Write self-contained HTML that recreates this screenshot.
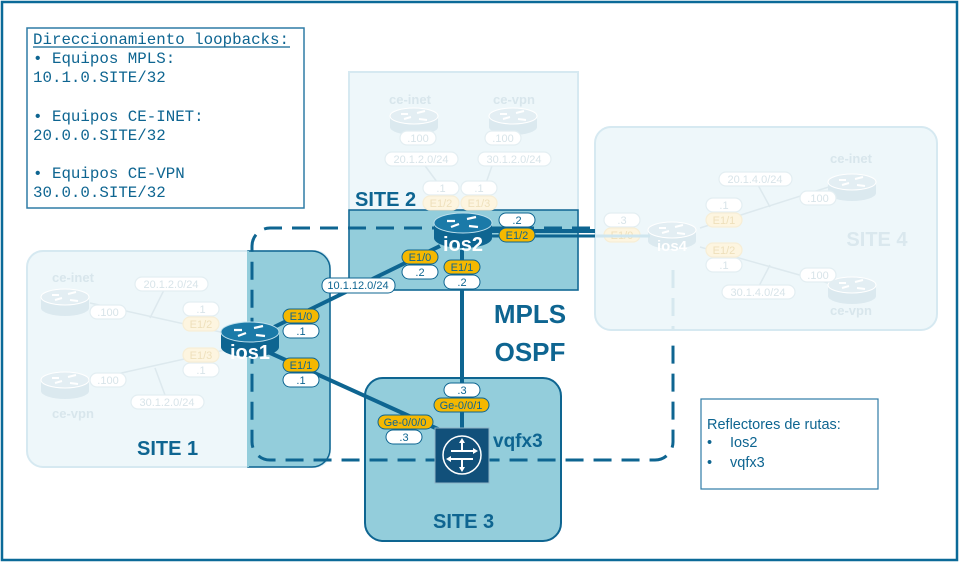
<!DOCTYPE html>
<html><head><meta charset="utf-8"><style>
html,body{margin:0;padding:0;background:#fff}
svg{display:block}
text{font-family:"Liberation Sans",sans-serif}
.mono{font-family:"Liberation Mono",monospace}
</style></head><body>
<svg width="960" height="563" viewBox="0 0 960 563" xmlns="http://www.w3.org/2000/svg">
<defs>
<g id="rt">
  <path d="M-29,0 L-29,15 A29,10 0 0 0 29,15 L29,0 Z" fill="#0e6591"/>
  <ellipse cx="0" cy="0" rx="29" ry="10" fill="#1b7aa8" stroke="#bfe0ec" stroke-width="1"/>
  <path d="M-16,-2 l8,0 M-12,4 l8,-3 M4,-4 l9,-2 M6,3 l9,1" stroke="#fff" stroke-width="2.2"/>
</g>
<g id="rtf">
  <path d="M-24,0 L-24,11 A24,8 0 0 0 24,11 L24,0 Z" fill="#dbe9ef"/>
  <ellipse cx="0" cy="0" rx="24" ry="8" fill="#e3eef3" stroke="#fff"/>
  <path d="M-13,-2 l7,0 M-10,3 l7,-2 M3,-3 l8,-2 M5,3 l8,1" stroke="#fff" stroke-width="2"/>
</g>
</defs>
<rect x="2" y="2" width="955" height="558" fill="#fff" stroke="#0b6a98" stroke-width="2.5"/>

<!-- Site 4 -->
<rect x="595" y="127" width="342" height="203" rx="16" fill="#eef7fa" stroke="#d6e9f1" stroke-width="2"/>
<!-- Site 1 -->
<rect x="27" y="251" width="303" height="216" rx="16" fill="#eef7fa" stroke="#d6e9f1" stroke-width="2"/>
<path d="M248,251 L312,251 A18,18 0 0 1 330,269 L330,449 A18,18 0 0 1 312,467 L248,467 Z" fill="#93cddb" stroke="#0e6591" stroke-width="1.5"/>
<line x1="248" y1="251" x2="248" y2="467" stroke="#93cddb" stroke-width="2"/>
<!-- Site 2 -->
<rect x="349" y="72" width="229" height="218" fill="#eef7fa" stroke="#d6e9f1" stroke-width="2"/>
<rect x="349" y="210" width="229" height="80" fill="#93cddb" stroke="#0e6591" stroke-width="1.5"/>
<!-- Site 3 -->
<rect x="365" y="378" width="196" height="163" rx="18" fill="#93cddb" stroke="#0e6591" stroke-width="2"/>

<!-- faint site 2 -->
<g fill="none" stroke="#dde9ee" stroke-width="1.5">
<line x1="423" y1="163" x2="440" y2="186"/><line x1="493" y1="163" x2="485" y2="186"/>
</g>
<g font-weight="bold" font-size="13" fill="#d8e6ec"><text x="389" y="104">ce-inet</text><text x="493" y="104">ce-vpn</text></g>
<use href="#rtf" x="414" y="116"/><use href="#rtf" x="513" y="116"/>
<g stroke="#e3eef2" fill="#fff" stroke-width="1.2">
<rect x="400" y="131" width="36" height="14" rx="7"/><rect x="485" y="131" width="36" height="14" rx="7"/>
<rect x="385" y="152" width="73" height="14" rx="7"/><rect x="478" y="152" width="73" height="14" rx="7"/>
<rect x="423" y="181" width="36" height="14" rx="7"/><rect x="461" y="181" width="36" height="14" rx="7"/>
<rect x="423" y="196" width="36" height="14" rx="7" fill="#fdf5e0" stroke="#f7eed6"/><rect x="461" y="196" width="36" height="14" rx="7" fill="#fdf5e0" stroke="#f7eed6"/>
</g>
<g font-size="11" fill="#d8e4e9" text-anchor="middle">
<text x="418" y="142">.100</text><text x="503" y="142">.100</text><text x="421" y="163">20.1.2.0/24</text><text x="514" y="163">30.1.2.0/24</text>
<text x="441" y="192">.1</text><text x="479" y="192">.1</text><text x="441" y="207" fill="#eee0bb">E1/2</text><text x="479" y="207" fill="#eee0bb">E1/3</text>
</g>

<!-- faint site 1 -->
<g fill="none" stroke="#dde9ee" stroke-width="1.5">
<line x1="90" y1="303" x2="225" y2="333"/><line x1="90" y1="380" x2="225" y2="350"/>
<line x1="150" y1="318" x2="165" y2="288"/><line x1="155" y1="368" x2="165" y2="395"/>
</g>
<g font-weight="bold" font-size="13" fill="#d8e6ec"><text x="52" y="282">ce-inet</text><text x="52" y="418">ce-vpn</text></g>
<use href="#rtf" x="65" y="297"/><use href="#rtf" x="65" y="380"/>
<g stroke="#e3eef2" fill="#fff" stroke-width="1.2">
<rect x="90" y="305" width="36" height="14" rx="7"/><rect x="90" y="373" width="36" height="14" rx="7"/>
<rect x="135" y="277" width="73" height="14" rx="7"/><rect x="131" y="395" width="73" height="14" rx="7"/>
<rect x="183" y="302" width="36" height="14" rx="7"/><rect x="183" y="363" width="36" height="14" rx="7"/>
<rect x="183" y="317" width="36" height="14" rx="7" fill="#fdf5e0" stroke="#f7eed6"/><rect x="183" y="348" width="36" height="14" rx="7" fill="#fdf5e0" stroke="#f7eed6"/>
</g>
<g font-size="11" fill="#d8e4e9" text-anchor="middle">
<text x="108" y="316">.100</text><text x="108" y="384">.100</text><text x="171" y="288">20.1.2.0/24</text><text x="167" y="406">30.1.2.0/24</text>
<text x="201" y="313">.1</text><text x="201" y="374">.1</text><text x="201" y="328" fill="#eee0bb">E1/2</text><text x="201" y="359" fill="#eee0bb">E1/3</text>
</g>

<!-- faint site 4 -->
<g fill="none" stroke="#dde9ee" stroke-width="1.5">
<line x1="700" y1="228" x2="835" y2="185"/><line x1="700" y1="247" x2="835" y2="285"/>
<line x1="770" y1="207" x2="758" y2="185"/><line x1="770" y1="265" x2="758" y2="288"/>
</g>
<text x="877" y="246" font-weight="bold" font-size="20" fill="#dae8ee" text-anchor="middle">SITE 4</text>
<g font-weight="bold" font-size="13" fill="#d8e6ec"><text x="830" y="163">ce-inet</text><text x="830" y="315">ce-vpn</text></g>
<use href="#rtf" x="852" y="182"/><use href="#rtf" x="852" y="285"/>
<use href="#rtf" x="672" y="230"/>
<g stroke="#e3eef2" fill="#fff" stroke-width="1.2">
<rect x="719" y="172" width="73" height="14" rx="7"/><rect x="722" y="285" width="73" height="14" rx="7"/>
<rect x="800" y="191" width="36" height="14" rx="7"/><rect x="800" y="268" width="36" height="14" rx="7"/>
<rect x="706" y="198" width="36" height="14" rx="7"/><rect x="706" y="258" width="36" height="14" rx="7"/>
<rect x="706" y="213" width="36" height="14" rx="7" fill="#fdf5e0" stroke="#f7eed6"/><rect x="706" y="243" width="36" height="14" rx="7" fill="#fdf5e0" stroke="#f7eed6"/>
<rect x="604" y="213" width="36" height="14" rx="7"/><rect x="604" y="228" width="36" height="14" rx="7" fill="#fdf5e0" stroke="#f7eed6"/>
</g>
<g font-size="11" fill="#d8e4e9" text-anchor="middle">
<text x="755" y="183">20.1.4.0/24</text><text x="758" y="296">30.1.4.0/24</text><text x="818" y="202">.100</text><text x="818" y="279">.100</text>
<text x="724" y="209">.1</text><text x="724" y="269">.1</text><text x="724" y="224" fill="#eee0bb">E1/1</text><text x="724" y="254" fill="#eee0bb">E1/2</text>
<text x="622" y="224">.3</text><text x="622" y="239" fill="#eee0bb">E1/0</text>
</g>
<text x="672" y="251" font-weight="bold" font-size="15" fill="#fff" text-anchor="middle">ios4</text>
<line x1="673" y1="270" x2="673" y2="330" stroke="#d6e8ef" stroke-width="3" stroke-dasharray="18,10"/>

<!-- MPLS dashed -->
<path d="M590,228 L270,228 A18,18 0 0 0 252,246 L252,442 A18,18 0 0 0 270,460 L655,460 A18,18 0 0 0 673,442 L673,340" fill="none" stroke="#0e6591" stroke-width="3" stroke-dasharray="18,10"/>

<!-- links -->
<g stroke="#0e6591" stroke-width="4" fill="none">
<line x1="268" y1="330" x2="440" y2="246"/>
<line x1="268" y1="352" x2="440" y2="430"/>
<line x1="462" y1="250" x2="462" y2="430"/>
<line x1="488" y1="231" x2="595" y2="231"/>
</g>
<line x1="595" y1="236" x2="650" y2="236" stroke="#cfe6ef" stroke-width="3"/>
<line x1="488" y1="236" x2="595" y2="236" stroke="#0e6591" stroke-width="3"/>

<!-- routers -->
<use href="#rt" x="463" y="223"/>
<text x="463" y="251" font-weight="bold" font-size="20" fill="#fff" text-anchor="middle">ios2</text>
<use href="#rt" x="250" y="332"/>
<text x="250" y="359" font-weight="bold" font-size="20" fill="#fff" text-anchor="middle">ios1</text>
<rect x="435" y="428" width="54" height="55" fill="#11507a" stroke="#8fb3c6"/>
<circle cx="462" cy="455" r="19" fill="none" stroke="#fff" stroke-width="1.5"/>
<path d="M462,440 v11 h-11 M462,470 v-11 h11 M451,459 h11 M473,451 h-11" stroke="#fff" stroke-width="2" fill="none"/>
<path d="M462,438 l-3,5 h6z M462,472 l-3,-5 h6z M446,459 l5,-3 v6z M478,451 l-5,-3 v6z" fill="#fff"/>
<text x="493" y="447" font-weight="bold" font-size="19" fill="#0e6591">vqfx3</text>

<!-- labels -->
<g stroke="#0e6591" stroke-width="1">
<rect x="499" y="213" width="36" height="14" rx="7" fill="#fff"/><rect x="499" y="228" width="36" height="14" rx="7" fill="#f5b800"/>
<rect x="402" y="250" width="36" height="14" rx="7" fill="#f5b800"/><rect x="402" y="265" width="36" height="14" rx="7" fill="#fff"/>
<rect x="444" y="260" width="36" height="14" rx="7" fill="#f5b800"/><rect x="444" y="275" width="36" height="14" rx="7" fill="#fff"/>
<rect x="322" y="278" width="73" height="15" rx="7" fill="#fff"/>
<rect x="283" y="309" width="36" height="14" rx="7" fill="#f5b800"/><rect x="283" y="324" width="36" height="14" rx="7" fill="#fff"/>
<rect x="283" y="358" width="36" height="14" rx="7" fill="#f5b800"/><rect x="283" y="373" width="36" height="14" rx="7" fill="#fff"/>
<rect x="444" y="383" width="36" height="14" rx="7" fill="#fff"/><rect x="434" y="398" width="55" height="14" rx="7" fill="#f5b800"/>
<rect x="378" y="415" width="55" height="14" rx="7" fill="#f5b800"/><rect x="386" y="430" width="36" height="14" rx="7" fill="#fff"/>
</g>
<g font-size="11" fill="#0e6591" text-anchor="middle">
<text x="517" y="224">.2</text><text x="517" y="239">E1/2</text>
<text x="420" y="261">E1/0</text><text x="420" y="276">.2</text>
<text x="462" y="271">E1/1</text><text x="462" y="286">.2</text>
<text x="358" y="289">10.1.12.0/24</text>
<text x="301" y="320">E1/0</text><text x="301" y="335">.1</text>
<text x="301" y="369">E1/1</text><text x="301" y="384">.1</text>
<text x="462" y="394">.3</text><text x="461" y="409">Ge-0/0/1</text>
<text x="405" y="426">Ge-0/0/0</text><text x="404" y="441">.3</text>
</g>

<g font-weight="bold" fill="#0e6591">
<text x="355" y="206" font-size="20">SITE 2</text>
<text x="137" y="455" font-size="20">SITE 1</text>
<text x="433" y="528" font-size="20">SITE 3</text>
<text x="530" y="323" font-size="26" text-anchor="middle">MPLS</text>
<text x="530" y="361" font-size="26" text-anchor="middle">OSPF</text>
</g>

<!-- loopbacks box -->
<rect x="27" y="28" width="277" height="180" fill="#fff" stroke="#2f7ca6" stroke-width="1.5"/>
<g font-size="15.8" fill="#0e6591" xml:space="preserve">
<text class="mono" x="33" y="44" textLength="256" lengthAdjust="spacingAndGlyphs">Direccionamiento loopbacks:</text>
<line x1="33" y1="47" x2="290" y2="47" stroke="#0e6591" stroke-width="1.2"/>
<text class="mono" x="33" y="63">•  Equipos MPLS:</text>
<text class="mono" x="33" y="82">10.1.0.SITE/32</text>
<text class="mono" x="33" y="121">•  Equipos CE-INET:</text>
<text class="mono" x="33" y="140">20.0.0.SITE/32</text>
<text class="mono" x="33" y="178">•  Equipos CE-VPN</text>
<text class="mono" x="33" y="197">30.0.0.SITE/32</text>
</g>

<!-- reflectores box -->
<rect x="701" y="399" width="177" height="90" fill="#fff" stroke="#2f7ca6" stroke-width="1.2"/>
<g font-size="14.5" fill="#0e6591">
<text x="707" y="429">Reflectores de rutas:</text>
<text x="707" y="447">•</text><text x="730" y="447">Ios2</text>
<text x="707" y="467">•</text><text x="730" y="467">vqfx3</text>
</g>
</svg>
</body></html>
